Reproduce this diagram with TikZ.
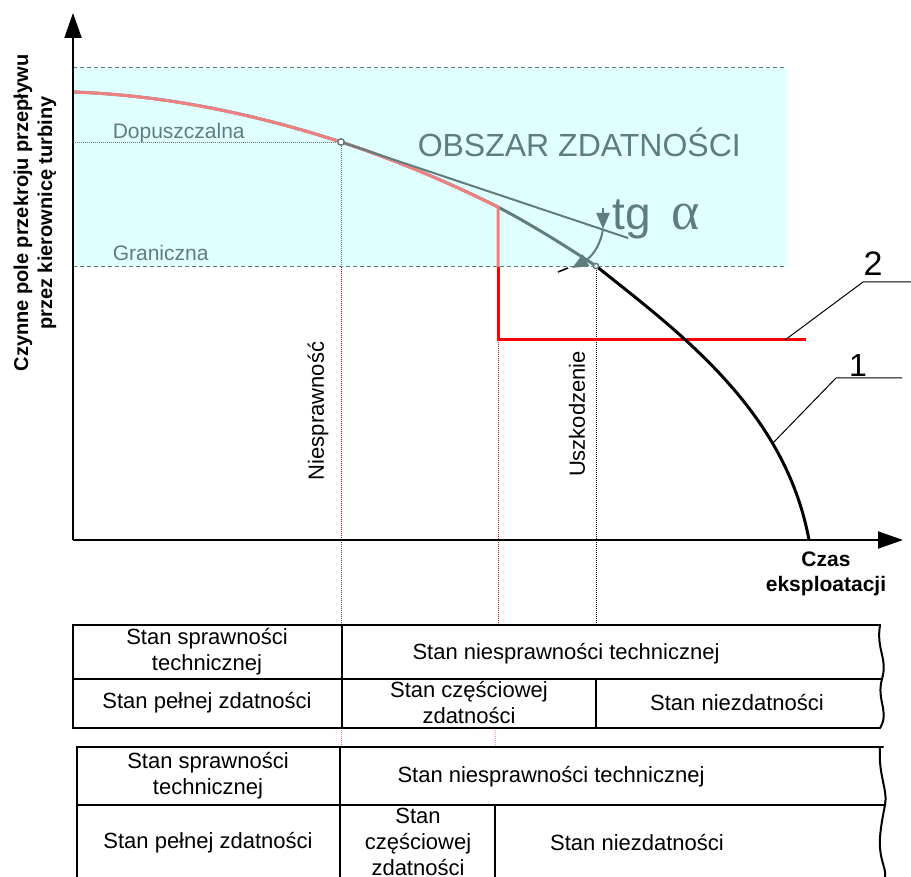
\documentclass[tikz,border=0pt]{standalone}
\usepackage{fontspec}
\setmainfont{Liberation Sans}
\newfontfamily\greekfont{Liberation Serif}
\usepackage{tikz}
\usetikzlibrary{arrows.meta}
\definecolor{zdatny}{RGB}{224,255,255}
\definecolor{szary}{RGB}{95,125,125}
\definecolor{lososiowy}{RGB}{240,128,128}
\tikzset{every picture/.style={line width=0.75pt}}
\tikzset{
  tabtekst/.style={font=\fontsize{11}{13}\selectfont, align=center, inner sep=0pt},
  szarytekst/.style={text=szary, font=\fontsize{10.5}{12}\selectfont, inner sep=0pt},
  kropki/.style={line width=0.5pt, dash pattern=on 0.5pt off 0.5pt},
  kreski/.style={szary, line width=0.5pt, dash pattern=on 2pt off 1.5pt},
  tabela/.style={line width=1pt, line cap=round},
  os/.style={line width=1pt, -{Triangle[length=12.5pt, width=8.5pt]}},
  grot/.style={-{Triangle[length=8pt, width=6.5pt]}},
}

\begin{document}
\begin{tikzpicture}[x=0.5pt, y=-0.5pt]
\useasboundingbox (0,0) rectangle (911,877);
% obszar zdatnosci
\fill[zdatny] (73,68) rectangle (787,267);
\draw[kreski] (73,68) -- (787,68);
\draw[kreski] (73,267) -- (787,267);
\draw[szary, kropki] (73,143) -- (341,143);
%
\coordinate (pStart) at (73,92);
\coordinate (pDop) at (341,142);
\coordinate (pGr) at (596,266);
\coordinate (pKol) at (498,207);
\coordinate (pCz) at (498,340);
\coordinate (pKon) at (809,540);
%
% linie pionowe
\draw[szary, kropki] (pDop) -- (341,267);
\draw[red!70!black, kropki] (341,267) -- (341,540);
\draw[black!70, kropki] (341,540) -- (341,625);
\draw[red!60, kropki] (341,728) -- (341,747);
\draw[red, kropki] (pCz) -- (498,625);
\draw[red!40, kropki] (495,728) -- (495,747);
\draw[black, kropki] (pGr) -- (596,625);
%
% krzywe
\draw[szary, line width=1.5pt] (pStart) .. controls (162,95) and (252,113) .. (pDop)
  .. controls (393,159) and (446,181) .. (pKol) .. controls (532,225) and (564,245) .. (pGr);
\draw[lososiowy, line width=1.5pt] (pStart) .. controls (162,95) and (252,113) .. (pDop)
  .. controls (393,159) and (446,181) .. (pKol) -- (498,267);
\draw[red, line width=1.5pt] (498,267) -- (pCz) -- (806,340);
\draw[black, line width=1.5pt] (pGr) .. controls (680,333) and (785,410) .. (pKon);
\draw[szary, line width=1pt] (pDop) -- (628,238);
%
% kat alfa
\draw[szary, line width=1pt, grot] (603,208) -- (603,229);
\draw[szary, line width=1pt, grot] (603,229) .. controls (600,248) and (590,258) .. (572,268);
\draw[black, line width=0.75pt] (558,272) -- (568,268);
\fill[white, draw=szary, line width=0.75pt] (pDop) circle[radius=1.6pt];
\fill[white, draw=szary, line width=0.75pt] (pGr) circle[radius=1.3pt];
%
% osie
\coordinate (O) at (73,540);
\draw[os] (O) -- (73,13);
\draw[os] (O) -- (903,540);
%
\node[rotate=90, align=center, font=\bfseries\fontsize{10}{12}\selectfont] (osY) at (35,213) {Czynne pole przekroju przepływu\\przez kierownicę turbiny};
\node[align=center, font=\bfseries\fontsize{10.5}{12.5}\selectfont] (osX) at (826,574) {Czas\\eksploatacji};
\node[szarytekst, anchor=west] (dop) at (112,133) {Dopuszczalna};
\node[szarytekst, anchor=west] (gran) at (112,253) {Graniczna};
\node[text=szary, font=\fontsize{16}{18}\selectfont, anchor=west, inner sep=0pt] (obszar) at (417,142) {OBSZAR ZDATNOŚCI};
\node[text=szary, font=\fontsize{23}{24}\selectfont, anchor=base west, inner sep=0pt] (tg) at (612,230) {tg};
\node[text=szary, font=\greekfont\fontsize{27}{28}\selectfont, anchor=base west, inner sep=0pt] (alfa) at (671,230) {α};
\node[rotate=90, tabtekst] (niespr) at (318,411) {Niesprawność};
\node[rotate=90, tabtekst] (uszk) at (577,414) {Uszkodzenie};
%
% oznaczenia 1 i 2
\coordinate (c2) at (785,340);
\coordinate (k2) at (863,282);
\coordinate (e2) at (911,282);
\coordinate (c1) at (772,444);
\coordinate (k1) at (836,378);
\coordinate (e1) at (902,378);
\draw[line width=0.5pt] (c2) -- (k2) -- (e2);
\draw[line width=0.5pt] (c1) -- (k1) -- (e1);
\node[font=\fontsize{17}{18}\selectfont, inner sep=0pt] (n2) at (873,264) {2};
\node[font=\fontsize{16}{17}\selectfont, inner sep=0pt] (n1) at (858,365) {1};
%
% tabela 1
\draw[tabela] (880,625) -- (73,625) -- (73,728) -- (880,728);
\draw[tabela] (73,679) -- (882,679);
\draw[tabela] (342,625) -- (342,728);
\draw[tabela] (596,679) -- (596,728);
\draw[tabela] (880,625) .. controls (876,650) and (888,658) .. (882,679) .. controls (876,700) and (890,712) .. (880,728);
\node[tabtekst] (a1) at (207,652) {Stan sprawności\\technicznej};
\node[tabtekst] (a2) at (566,654) {Stan niesprawności technicznej};
\node[tabtekst] (a3) at (207,703) {Stan pełnej zdatności};
\node[tabtekst] (a4) at (469,703) {Stan częściowej\\zdatności};
\node[tabtekst] (a5) at (737,703) {Stan niezdatności};
%
% tabela 2
\draw[tabela] (883,747) -- (77,747) -- (77,877);
\draw[tabela] (77,805) -- (885,805);
\draw[tabela] (340,747) -- (340,877);
\draw[tabela] (495,805) -- (495,877);
\draw[tabela] (880,747) .. controls (878,775) and (888,790) .. (885,805) .. controls (880,830) and (878,845) .. (882,860) .. controls (884,868) and (886,872) .. (885,877);
\node[tabtekst] (b1) at (208,776) {Stan sprawności\\technicznej};
\node[tabtekst] (b2) at (551,777) {Stan niesprawności technicznej};
\node[tabtekst] (b3) at (208,843) {Stan pełnej zdatności};
\node[tabtekst] (b4) at (418,842) {Stan\\częściowej\\zdatności};
\node[tabtekst] (b5) at (637,843) {Stan niezdatności};
\end{tikzpicture}
\end{document}
